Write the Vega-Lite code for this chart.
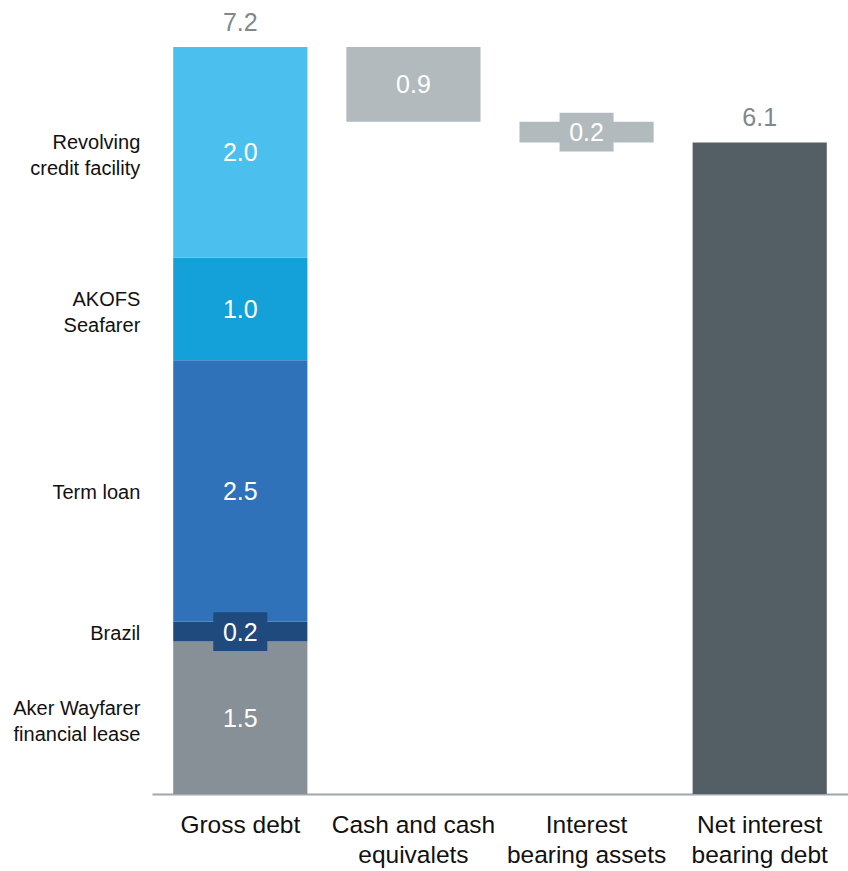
{
  "$schema": "https://vega.github.io/schema/vega-lite/v6.json",
  "width": 696,
  "height": 747,
  "autosize": "none",
  "padding": {"left": 152, "right": 0, "top": 47, "bottom": 77},
  "config": {
    "view": {"stroke": null},
    "font": "Liberation Sans"
  },
  "datasets": {
    "bars": [
      {"category": "Gross debt", "segment": "Aker Wayfarer\nfinancial lease", "y_start": 0, "y_end": 1.47, "label": "1.5"},
      {"category": "Gross debt", "segment": "Brazil", "y_start": 1.47, "y_end": 1.66, "label": "0.2"},
      {"category": "Gross debt", "segment": "Term loan", "y_start": 1.66, "y_end": 4.18, "label": "2.5"},
      {"category": "Gross debt", "segment": "AKOFS\nSeafarer", "y_start": 4.18, "y_end": 5.17, "label": "1.0"},
      {"category": "Gross debt", "segment": "Revolving\ncredit facility", "y_start": 5.17, "y_end": 7.2, "label": "2.0"},
      {"category": "Cash and cash\nequivalets", "segment": "Cash", "y_start": 6.48, "y_end": 7.2, "label": "0.9"},
      {"category": "Interest\nbearing assets", "segment": "Assets", "y_start": 6.28, "y_end": 6.48, "label": "0.2"},
      {"category": "Net interest\nbearing debt", "segment": "Net", "y_start": 0, "y_end": 6.28, "label": "6.1"}
    ],
    "totals": [
      {"category": "Gross debt", "value": 7.2, "label": "7.2"},
      {"category": "Net interest\nbearing debt", "value": 6.28, "label": "6.1"}
    ]
  },
  "encoding": {
    "x": {
      "field": "category",
      "type": "nominal",
      "sort": null,
      "scale": {
        "domain": ["Gross debt", "Cash and cash\nequivalets", "Interest\nbearing assets", "Net interest\nbearing debt"],
        "paddingInner": 0,
        "paddingOuter": 0.01
      },
      "axis": {
        "title": null,
        "labelAngle": 0,
        "ticks": false,
        "labelPadding": 19,
        "labelFontSize": 24.5,
        "labelLineHeight": 30,
        "labelColor": "#111111",
        "labelExpr": "split(datum.label, '\\n')",
        "domainColor": "#A0A8AD",
        "domainWidth": 2
      }
    }
  },
  "layer": [
    {
      "data": {"name": "bars"},
      "mark": {"type": "bar", "width": {"band": 0.775}},
      "encoding": {
        "y": {"field": "y_start", "type": "quantitative", "scale": {"domain": [0, 7.2], "nice": false}, "axis": null},
        "y2": {"field": "y_end"},
        "color": {
          "field": "segment",
          "type": "nominal",
          "scale": {
            "domain": ["Aker Wayfarer\nfinancial lease", "Brazil", "Term loan", "AKOFS\nSeafarer", "Revolving\ncredit facility", "Cash", "Assets", "Net"],
            "range": ["#879096", "#1F4A7E", "#2F72B9", "#14A0D9", "#4BBFED", "#B2BABE", "#B2BABE", "#535E65"]
          },
          "legend": null
        }
      }
    },
    {
      "data": {"name": "bars"},
      "transform": [
        {"filter": "datum.segment == 'Brazil' || datum.segment == 'Assets'"},
        {"calculate": "(datum.y_start + datum.y_end) / 2", "as": "mid"}
      ],
      "mark": {"type": "point", "filled": true, "opacity": 1, "shape": "M-1,-0.72H1V0.72H-1Z", "size": 2916},
      "encoding": {
        "y": {"field": "mid", "type": "quantitative"},
        "color": {"field": "segment", "type": "nominal"}
      }
    },
    {
      "data": {"name": "bars"},
      "transform": [
        {"filter": "datum.segment != 'Net'"},
        {"calculate": "(datum.y_start + datum.y_end) / 2", "as": "mid"}
      ],
      "mark": {"type": "text", "color": "#FFFFFF", "fontSize": 25, "baseline": "middle", "align": "center", "dy": 1},
      "encoding": {
        "y": {"field": "mid", "type": "quantitative"},
        "text": {"field": "label"}
      }
    },
    {
      "data": {"name": "totals"},
      "mark": {"type": "text", "color": "#7F888D", "fontSize": 25, "baseline": "alphabetic", "align": "center", "dy": -16},
      "encoding": {
        "y": {"field": "value", "type": "quantitative"},
        "text": {"field": "label"}
      }
    },
    {
      "data": {"name": "bars"},
      "transform": [
        {"filter": "datum.category == 'Gross debt' && indexof(datum.segment, '\\n') < 0"},
        {"calculate": "(datum.y_start + datum.y_end) / 2", "as": "mid"}
      ],
      "mark": {"type": "text", "color": "#111111", "fontSize": 20, "baseline": "middle", "align": "right", "dx": -100, "dy": 2},
      "encoding": {
        "y": {"field": "mid", "type": "quantitative"},
        "text": {"field": "segment"}
      }
    },
    {
      "data": {"name": "bars"},
      "transform": [
        {"filter": "datum.category == 'Gross debt' && indexof(datum.segment, '\\n') >= 0"},
        {"calculate": "(datum.y_start + datum.y_end) / 2", "as": "mid"}
      ],
      "mark": {"type": "text", "color": "#111111", "fontSize": 20, "lineHeight": 26, "lineBreak": "\n", "baseline": "middle", "align": "right", "dx": -100, "dy": -9},
      "encoding": {
        "y": {"field": "mid", "type": "quantitative"},
        "text": {"field": "segment"}
      }
    }
  ]
}
